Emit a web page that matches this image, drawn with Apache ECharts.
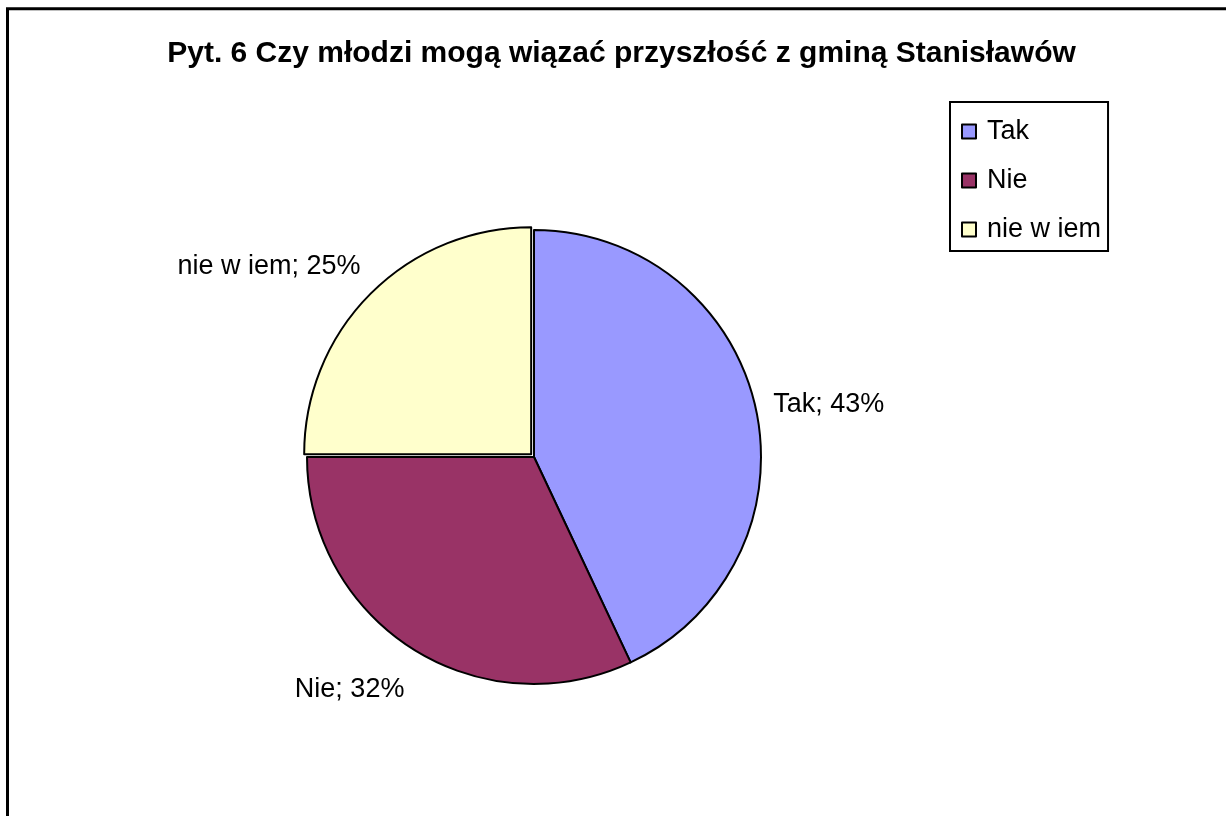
<!DOCTYPE html>
<html>
<head>
<meta charset="utf-8">
<script src="https://cdn.jsdelivr.net/npm/echarts@6/dist/echarts.min.js"></script>
<style>
html,body{margin:0;padding:0;background:#fff;}
#chart{width:1226px;height:816px;}
</style>
</head>
<body>
<div id="chart"></div>
<script>
const titleText = 'Pyt. 6 Czy młodzi mogą wiązać przyszłość z gminą Stanisławów';
const categories = ['Tak', 'Nie', 'nie w iem'];
const values = [43, 32, 25];
const colors = ['#9999FF', '#993366', '#FFFFCC'];
const explodedIndex = 2;

const FONT = '"Liberation Sans", Arial, sans-serif';
const chart = echarts.init(document.getElementById('chart'), null, {renderer: 'canvas'});

const total = values.reduce((a, b) => a + b, 0);
// direction of each slice's bisector, derived from data
const midDirX = [];
const midDirY = [];
let acc = 0;
values.forEach(v => {
  const mid = (acc + v / 2) / total * Math.PI * 2;
  midDirX.push(Math.sin(mid));
  midDirY.push(-Math.cos(mid));
  acc += v;
});

const option = {
  backgroundColor: '#fff',
  animation: false,
  legend: {
    orient: 'vertical',
    left: 950,
    top: 102,
    data: categories,
    icon: 'rect',
    itemWidth: 14,
    itemHeight: 14,
    itemGap: 22,
    padding: [16, 7, 8, 11],
    borderColor: '#000',
    borderWidth: 2,
    itemStyle: {borderColor: '#000', borderWidth: 2},
    textStyle: {fontFamily: FONT, fontSize: 27, color: '#000', padding: [0, 0, 0, 6]},
    selectedMode: false
  },
  graphic: [{
    type: 'text',
    x: 621.5,
    y: 54,
    silent: true,
    style: {
      text: titleText,
      align: 'center',
      verticalAlign: 'middle',
      font: 'bold 30px ' + FONT,
      fill: '#000'
    }
  }, {
    type: 'rect',
    shape: {x: 7.5, y: 8.8, width: 1400, height: 1000},
    style: {fill: null, stroke: '#000', lineWidth: 3},
    silent: true,
    z: 100
  }],
  series: [{
    type: 'pie',
    center: [534, 457],
    radius: 227,
    startAngle: 90,
    clockwise: true,
    selectedMode: 'single',
    selectedOffset: 4,
    avoidLabelOverlap: false,
    itemStyle: {borderColor: '#000', borderWidth: 2},
    emphasis: {disabled: true},
    label: {
      show: true,
      position: 'outside',
      formatter: p => p.name + '; ' + p.value + '%',
      fontFamily: FONT,
      fontSize: 27,
      color: '#000'
    },
    labelLine: {show: false, length: 13, length2: 0},
    labelLayout: function (params) {
      const i = params.dataIndex;
      const dX = midDirX[i], dY = midDirY[i];
      return {dx: dX < 0 ? 4 : 0, dy: dY * dY * dY * 50};
    },
    data: categories.map((c, i) => ({
      name: c,
      value: values[i],
      selected: i === explodedIndex,
      itemStyle: {color: colors[i]}
    }))
  }]
};
chart.setOption(option);
</script>
</body>
</html>
